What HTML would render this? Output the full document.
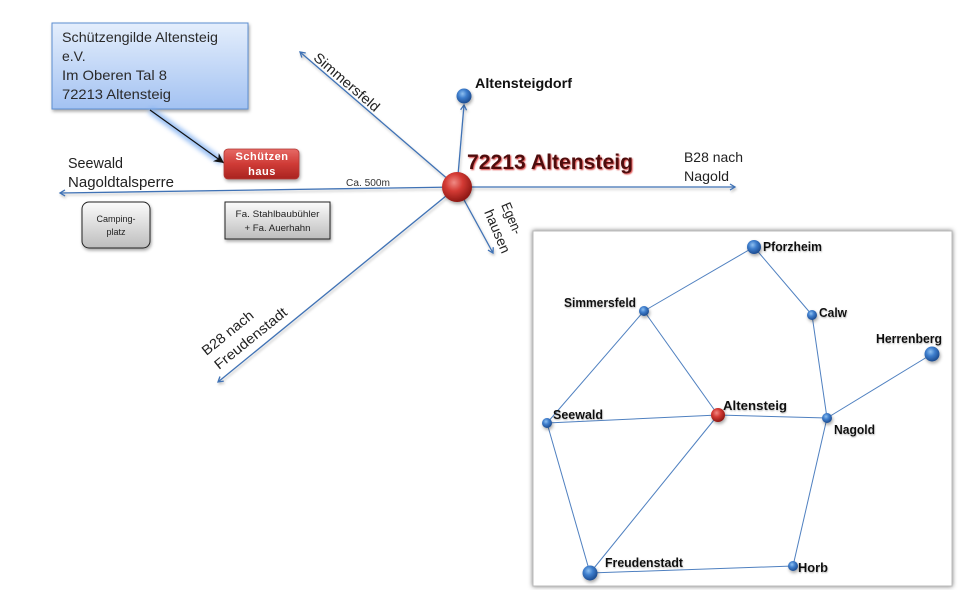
<!DOCTYPE html>
<html><head><meta charset="utf-8"><style>
html,body{margin:0;padding:0;background:#fff;}
svg{display:block;font-family:"Liberation Sans",sans-serif;}
</style></head><body>
<svg width="960" height="590" viewBox="0 0 960 590" xmlns="http://www.w3.org/2000/svg">
<defs>
  <linearGradient id="gBlueBox" x1="0" y1="0" x2="0" y2="1">
    <stop offset="0" stop-color="#e4eefc"/><stop offset="1" stop-color="#a3c2f2"/>
  </linearGradient>
  <linearGradient id="gRedBox" x1="0" y1="0" x2="0" y2="1">
    <stop offset="0" stop-color="#e66a66"/><stop offset="0.5" stop-color="#cf3b36"/><stop offset="1" stop-color="#a92420"/>
  </linearGradient>
  <linearGradient id="gGray" x1="0" y1="0" x2="0" y2="1">
    <stop offset="0" stop-color="#fbfbfb"/><stop offset="1" stop-color="#bdbdbd"/>
  </linearGradient>
  <radialGradient id="gRed" cx="0.4" cy="0.35" r="0.65">
    <stop offset="0" stop-color="#f08a84"/><stop offset="0.45" stop-color="#d33a34"/><stop offset="1" stop-color="#8e1814"/>
  </radialGradient>
  <radialGradient id="gBlue" cx="0.4" cy="0.35" r="0.65">
    <stop offset="0" stop-color="#8fc0f0"/><stop offset="0.45" stop-color="#3d7dcc"/><stop offset="1" stop-color="#1d4c90"/>
  </radialGradient>
  <filter id="shLine" x="-10%" y="-10%" width="120%" height="130%">
    <feDropShadow dx="1" dy="2" stdDeviation="1.2" flood-color="#000" flood-opacity="0.25"/>
  </filter>
  <filter id="shBox" x="-20%" y="-20%" width="140%" height="150%">
    <feDropShadow dx="1" dy="2" stdDeviation="1.5" flood-color="#000" flood-opacity="0.35"/>
  </filter>
  <filter id="shInset" x="-5%" y="-5%" width="110%" height="110%">
    <feDropShadow dx="0" dy="0" stdDeviation="2.5" flood-color="#000" flood-opacity="0.55"/>
  </filter>
  <filter id="blur3"><feGaussianBlur stdDeviation="2.5"/></filter>
  <filter id="glowTitle" x="-10%" y="-30%" width="120%" height="160%">
    <feDropShadow dx="1" dy="1" stdDeviation="0.8" flood-color="#d83030" flood-opacity="0.9"/>
  </filter>
  <filter id="halo" x="-10%" y="-30%" width="120%" height="160%">
    <feDropShadow dx="0.5" dy="1" stdDeviation="0.8" flood-color="#888" flood-opacity="0.6"/>
  </filter>
  <marker id="arr" markerWidth="8" markerHeight="8" refX="6" refY="4" orient="auto" markerUnits="userSpaceOnUse">
    <path d="M1,1 L6,4 L1,7" fill="none" stroke="#3f72b5" stroke-width="1.3"/>
  </marker>
  <marker id="arrB" markerWidth="12" markerHeight="12" refX="10" refY="5" orient="auto" markerUnits="userSpaceOnUse">
    <path d="M0,0 L10,5 L0,10 L3,5 Z" fill="#111"/>
  </marker>
</defs>

<!-- Address box -->
<rect x="52" y="23" width="196" height="86" fill="url(#gBlueBox)" stroke="#5d8fd2" stroke-width="1" filter="url(#shBox)"/>
<g font-size="14" fill="#2a2a2a">
  <text x="62" y="42" textLength="156" lengthAdjust="spacingAndGlyphs">Schützengilde Altensteig</text>
  <text x="62" y="61">e.V.</text>
  <text x="62" y="80" textLength="105" lengthAdjust="spacingAndGlyphs">Im Oberen Tal 8</text>
  <text x="62" y="99" textLength="109" lengthAdjust="spacingAndGlyphs">72213 Altensteig</text>
</g>

<!-- pointer arrow with glow -->
<line x1="150" y1="110" x2="222" y2="162" stroke="#7eaef0" stroke-width="7" opacity="0.8" filter="url(#blur3)"/>
<line x1="150" y1="110" x2="224" y2="163" stroke="#111" stroke-width="1.2" marker-end="url(#arrB)"/>

<!-- Schützen haus -->
<rect x="224" y="149" width="75" height="30" rx="4" fill="url(#gRedBox)" stroke="#b33a36" stroke-width="0.8" filter="url(#shBox)"/>
<g font-size="11" font-weight="bold" fill="#fff" text-anchor="middle" letter-spacing="0.5">
  <text x="262" y="160">Schützen</text>
  <text x="262" y="175">haus</text>
</g>

<!-- Camping box -->
<rect x="82" y="202" width="68" height="46" rx="7" fill="url(#gGray)" stroke="#222" stroke-width="1" filter="url(#shBox)"/>
<g font-size="9" fill="#222" text-anchor="middle">
  <text x="116" y="222">Camping-</text>
  <text x="116" y="235">platz</text>
</g>

<!-- Stahlbau box -->
<rect x="225" y="202" width="105" height="37" fill="url(#gGray)" stroke="#222" stroke-width="1" filter="url(#shBox)"/>
<g font-size="9.5" fill="#222" text-anchor="middle">
  <text x="277.5" y="217" textLength="84" lengthAdjust="spacingAndGlyphs">Fa. Stahlbaubühler</text>
  <text x="277.5" y="231" textLength="66" lengthAdjust="spacingAndGlyphs">+ Fa. Auerhahn</text>
</g>

<!-- Main roads -->
<g stroke="#3f72b5" stroke-width="1.3" fill="none" filter="url(#shLine)">
  <line x1="457" y1="187" x2="60" y2="193" marker-end="url(#arr)"/>
  <line x1="457" y1="187" x2="735" y2="187" marker-end="url(#arr)"/>
  <line x1="457" y1="187" x2="300" y2="52" marker-end="url(#arr)"/>
  <line x1="457" y1="187" x2="464" y2="105" marker-end="url(#arr)"/>
  <line x1="457" y1="187" x2="493" y2="253" marker-end="url(#arr)"/>
  <line x1="457" y1="187" x2="218" y2="382" marker-end="url(#arr)"/>
</g>

<!-- Altensteigdorf node -->
<circle cx="464" cy="96" r="7.5" fill="url(#gBlue)" filter="url(#shBox)"/>
<text x="475" y="88" font-size="14" font-weight="bold" fill="#111" textLength="97" lengthAdjust="spacingAndGlyphs">Altensteigdorf</text>

<!-- Center red node -->
<circle cx="457" cy="187" r="15" fill="url(#gRed)" filter="url(#shBox)"/>

<!-- Title -->
<text x="467" y="169" font-size="21" font-weight="bold" fill="#4e1010" textLength="166" lengthAdjust="spacingAndGlyphs" filter="url(#glowTitle)">72213 Altensteig</text>

<!-- Labels -->
<g font-size="14" fill="#222">
  <text x="684" y="162" textLength="59" lengthAdjust="spacingAndGlyphs">B28 nach</text>
  <text x="684" y="181" textLength="45" lengthAdjust="spacingAndGlyphs">Nagold</text>
  <text x="68" y="168" font-size="15" textLength="55" lengthAdjust="spacingAndGlyphs">Seewald</text>
  <text x="68" y="187" font-size="15" textLength="106" lengthAdjust="spacingAndGlyphs">Nagoldtalsperre</text>
  <text transform="translate(312.6,59) rotate(40.7)" textLength="82" lengthAdjust="spacingAndGlyphs">Simmersfeld</text>
  <text transform="translate(501,205) rotate(67)" textLength="33" lengthAdjust="spacingAndGlyphs">Egen-</text>
  <text transform="translate(484,212) rotate(67)" textLength="46" lengthAdjust="spacingAndGlyphs">hausen</text>
  <text transform="translate(206.5,356) rotate(-39)" textLength="62" lengthAdjust="spacingAndGlyphs">B28 nach</text>
  <text transform="translate(219,370) rotate(-39)" textLength="89" lengthAdjust="spacingAndGlyphs">Freudenstadt</text>
</g>
<text x="346" y="186" font-size="10" fill="#333" textLength="44" lengthAdjust="spacingAndGlyphs">Ca. 500m</text>

<!-- Inset map -->
<rect x="533" y="231" width="419" height="355" fill="#fff" stroke="#bbb" stroke-width="1" filter="url(#shInset)"/>
<g stroke="#4f80c0" stroke-width="1" fill="none">
  <line x1="754" y1="247" x2="644" y2="311"/>
  <line x1="754" y1="247" x2="812" y2="315"/>
  <line x1="812" y1="315" x2="827" y2="418"/>
  <line x1="932" y1="354" x2="827" y2="418"/>
  <line x1="644" y1="311" x2="547" y2="423"/>
  <line x1="644" y1="311" x2="718" y2="415"/>
  <line x1="547" y1="423" x2="718" y2="415"/>
  <line x1="718" y1="415" x2="827" y2="418"/>
  <line x1="547" y1="423" x2="590" y2="573"/>
  <line x1="718" y1="415" x2="590" y2="573"/>
  <line x1="590" y1="573" x2="793" y2="566"/>
  <line x1="793" y1="566" x2="827" y2="418"/>
</g>
<g filter="url(#shBox)">
  <circle cx="754" cy="247" r="7" fill="url(#gBlue)"/>
  <circle cx="644" cy="311" r="5" fill="url(#gBlue)"/>
  <circle cx="812" cy="315" r="5" fill="url(#gBlue)"/>
  <circle cx="932" cy="354" r="7.5" fill="url(#gBlue)"/>
  <circle cx="718" cy="415" r="7" fill="url(#gRed)"/>
  <circle cx="827" cy="418" r="5" fill="url(#gBlue)"/>
  <circle cx="547" cy="423" r="5" fill="url(#gBlue)"/>
  <circle cx="590" cy="573" r="7.5" fill="url(#gBlue)"/>
  <circle cx="793" cy="566" r="5" fill="url(#gBlue)"/>
</g>
<g font-size="12.5" font-weight="bold" fill="#111" filter="url(#halo)">
  <text x="763" y="251" textLength="59" lengthAdjust="spacingAndGlyphs">Pforzheim</text>
  <text x="564" y="307" textLength="72" lengthAdjust="spacingAndGlyphs">Simmersfeld</text>
  <text x="819" y="317" textLength="28" lengthAdjust="spacingAndGlyphs">Calw</text>
  <text x="876" y="343" textLength="66" lengthAdjust="spacingAndGlyphs">Herrenberg</text>
  <text x="723" y="410" textLength="64" lengthAdjust="spacingAndGlyphs">Altensteig</text>
  <text x="834" y="434" textLength="41" lengthAdjust="spacingAndGlyphs">Nagold</text>
  <text x="553" y="419" textLength="50" lengthAdjust="spacingAndGlyphs">Seewald</text>
  <text x="605" y="567" textLength="78" lengthAdjust="spacingAndGlyphs">Freudenstadt</text>
  <text x="798" y="572" textLength="30" lengthAdjust="spacingAndGlyphs">Horb</text>
</g>
</svg>
</body></html>
